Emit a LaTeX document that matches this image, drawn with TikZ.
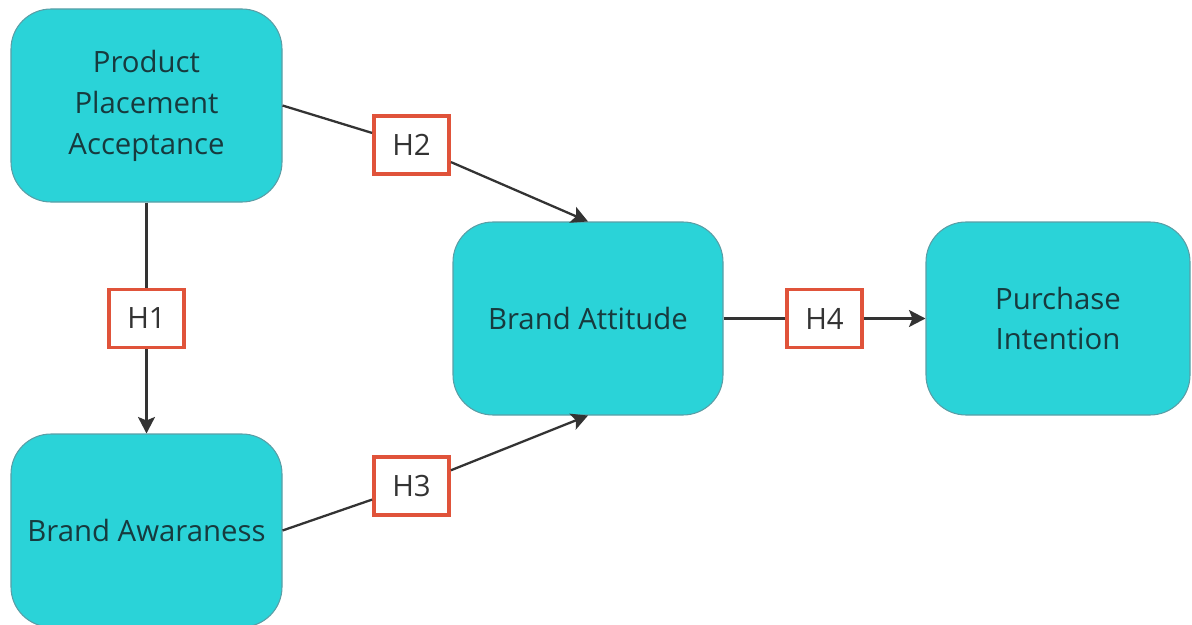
\documentclass[tikz,border=0pt]{standalone}
\usepackage{fontspec}
\setmainfont{Open Sans}
\usepackage{tikz}
\usetikzlibrary{arrows.meta, positioning}
\definecolor{boxcyan}{HTML}{2AD3D8}
\definecolor{boxedge}{HTML}{5A9EA6}
\definecolor{boxtext}{HTML}{173A3E}
\definecolor{hypred}{HTML}{E0533A}
\definecolor{linegray}{HTML}{333333}

\tikzset{
    construct/.style={draw=boxedge, line width=0.6pt, fill=boxcyan, rounded corners=0.8cm,
          minimum width=5.42cm, minimum height=3.86cm, align=center, text=boxtext,
          font=\fontsize{16.7}{23.3}\selectfont},
    hypbox/.style={draw=hypred, line width=2.2pt, fill=white,
          minimum width=1.5cm, minimum height=1.16cm, text=linegray,
          font=\fontsize{16.7}{20}\selectfont},
    link/.style={draw=linegray, line width=1.3pt},
    arrowlink/.style={link, -{Stealth[length=0.33cm, width=0.34cm, inset=0.07cm]}}
}

\begin{document}
\begin{tikzpicture}
    \useasboundingbox (0, 0) rectangle (23.84, -12.5);

    % construct boxes
    \node[construct] (ppa) at (2.93, -2.11) {Product\\Placement\\Acceptance};
    \node[construct] (baw) at (2.93, -10.61) {Brand Awaraness};
    \node[construct, minimum width=5.4cm] (batt) at (11.76, -6.37) {Brand Attitude};
    \node[construct, minimum width=5.28cm, minimum height=3.86cm] (pint) at (21.16, -6.37) {Purchase\\Intention};

    % hypothesis labels
    \node[hypbox] (h1) at (2.93, -6.37) {H1};
    \node[hypbox] (h2) at (8.23, -2.9) {H2};
    \node[hypbox] (h3) at (8.23, -9.72) {H3};
    \node[hypbox] (h4) at (16.49, -6.37) {H4};

    % paths
    \draw[link] (ppa.south) -- (h1);
    \draw[arrowlink] (h1) -- (baw.north);
    \draw[link] (ppa.east) -- (h2);
    \draw[arrowlink] (h2) -- (batt.north);
    \draw[link] (baw.east) -- (h3);
    \draw[arrowlink] (h3) -- (batt.south);
    \draw[link] (batt.east) -- (h4);
    \draw[arrowlink] (h4) -- (pint.west);
\end{tikzpicture}
\end{document}
